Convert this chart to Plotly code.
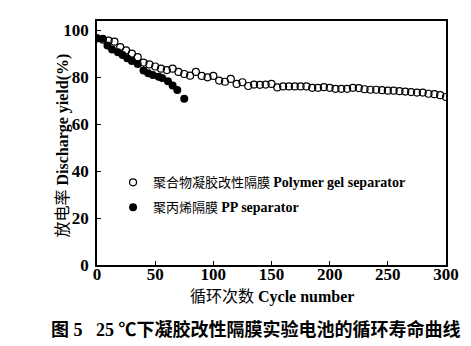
import plotly.graph_objects as go

# Polymer gel separator (open circles)
gel_cycles = list(range(0, 301, 5))
gel_yield = [96.6, 96.0, 95.6, 95.2, 92.9, 91.5, 90.1, 88.6, 86.3, 85.5,
             84.6, 83.7, 83.1, 83.7, 82.3, 81.4, 80.7, 82.3, 80.6, 80.0,
             80.6, 78.6, 78.1, 79.3, 77.2, 77.9, 76.3, 76.9, 76.8, 76.9,
             77.2, 75.7, 76.1, 76.1, 76.1, 76.1, 76.1, 75.5, 75.5, 75.8,
             75.5, 75.1, 75.1, 75.1, 75.5, 75.4, 74.9, 74.7, 74.7, 74.5,
             74.3, 74.3, 74.1, 73.9, 73.7, 73.5, 73.5, 73.0, 72.8, 72.4,
             71.6]

# PP separator (filled circles)
pp_cycles = [0, 5, 9, 13, 18, 22, 26, 30, 35, 40, 44, 48, 53, 56, 61, 65, 69, 75]
pp_yield = [96.6, 96.4, 93.6, 91.9, 90.7, 89.5, 88.1, 86.9, 85.7, 82.9,
            81.7, 81.0, 80.2, 79.7, 78.3, 76.5, 74.6, 70.9]

x_ticks = [0, 50, 100, 150, 200, 250, 300]
y_ticks = [0, 20, 40, 60, 80, 100]

gel_name = "聚合物凝胶改性隔膜 <b><span style='font-size:14px'>Polymer gel separator</span></b>"
pp_name = "聚丙烯隔膜 <b><span style='font-size:14px'>PP separator</span></b>"
x_title = "循环次数 <b>Cycle number</b>"
y_title = "放电率 <b>Discharge yield(%)</b>"
caption = "<b>图 5   25 ℃下凝胶改性隔膜实验电池的循环寿命曲线</b>"

FONT = "Liberation Serif, Noto Sans CJK SC, serif"

fig = go.Figure()
fig.add_trace(go.Scatter(
    x=gel_cycles, y=gel_yield, mode="markers", name=gel_name,
    legendgroup="a",
    marker=dict(symbol="circle-open", size=7, color="black", line=dict(width=1.2)),
))
fig.add_trace(go.Scatter(
    x=pp_cycles, y=pp_yield, mode="markers", name=pp_name,
    legendgroup="b",
    marker=dict(symbol="circle", size=8, color="black"),
))

axis_common = dict(
    showline=True, linecolor="black", linewidth=1.6, mirror=True,
    ticks="inside", ticklen=4, tickwidth=1.2, tickcolor="black",
    showgrid=False, zeroline=False,
    tickfont=dict(family=FONT, size=17, color="black", weight="bold"),
)

fig.update_xaxes(range=[0, 300], tickvals=x_ticks, ticklabelstandoff=-7, **axis_common)
fig.update_yaxes(range=[0, 104], tickvals=y_ticks, ticklabelstandoff=3, **axis_common)

fig.add_annotation(text=x_title, xref="paper", yref="paper", x=0.5, y=-0.131,
                   showarrow=False, xanchor="center", yanchor="middle",
                   font=dict(family=FONT, size=16, color="black"))
fig.add_annotation(text=y_title, xref="paper", yref="paper", x=-0.097, y=0.49,
                   showarrow=False, xanchor="center", yanchor="middle", textangle=-90,
                   font=dict(family=FONT, size=16, color="black"))
fig.add_annotation(text=caption, xref="paper", yref="paper", x=0.455, y=-0.266,
                   showarrow=False, xanchor="center", yanchor="middle",
                   font=dict(family=FONT, size=18, color="black"))

fig.update_layout(
    width=471, height=346,
    margin=dict(l=97, r=23, t=21, b=81),
    paper_bgcolor="white", plot_bgcolor="white",
    showlegend=True,
    legend=dict(x=0.046, y=0.40, xanchor="left", yanchor="top",
                bgcolor="rgba(0,0,0,0)", traceorder="grouped", tracegroupgap=5,
                font=dict(family=FONT, size=13, color="black")),
)

fig.write_html("out.html")
